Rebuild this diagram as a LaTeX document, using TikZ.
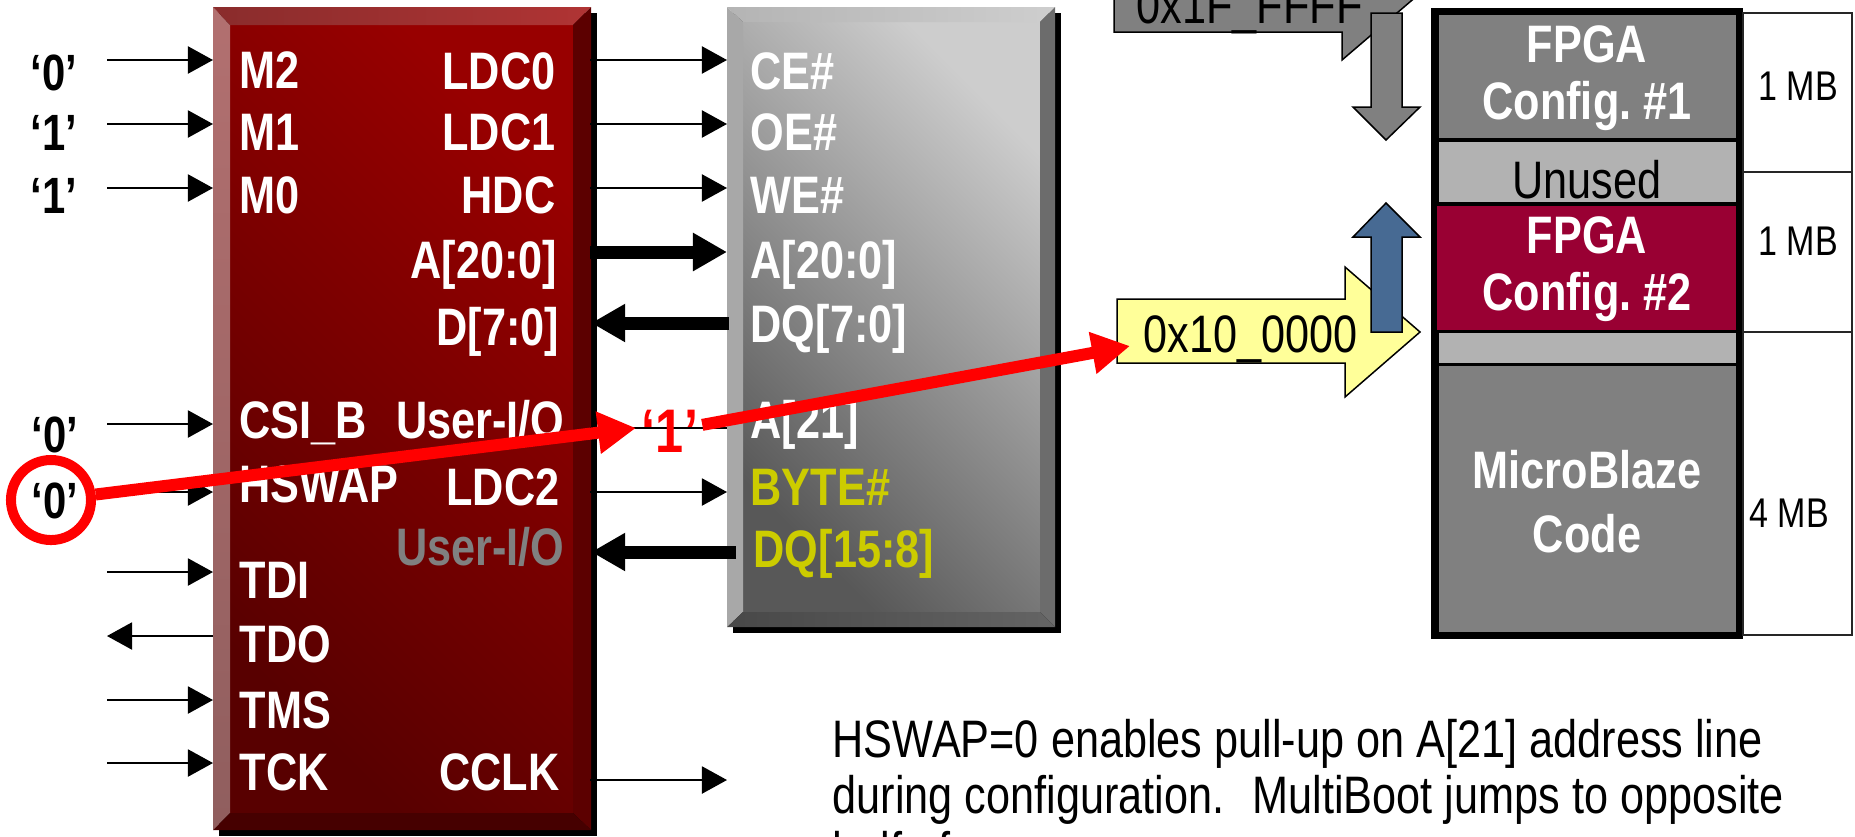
\documentclass[tikz,border=0pt]{standalone}
\usepackage{fontspec}
\usepackage{tikz}
\usepackage{xcolor}
\usetikzlibrary{arrows.meta,calc,positioning}
\newfontfamily\narrowfont[FakeStretch=0.82]{Liberation Sans}
\newcommand{\pinfont}{\narrowfont\bfseries\fontsize{15}{18}\selectfont}
\newcommand{\levelfont}{\narrowfont\bfseries\fontsize{14.5}{17}\selectfont}
\newcommand{\hotfont}{\narrowfont\bfseries\fontsize{17.5}{20}\selectfont}
\newcommand{\cellfont}{\narrowfont\bfseries\fontsize{15}{16.3}\selectfont}
\newcommand{\plainfont}{\narrowfont\fontsize{15}{15.9}\selectfont}
\newcommand{\sizefont}{\narrowfont\fontsize{11.8}{14}\selectfont}
\definecolor{redhi}{RGB}{152,0,0}
\definecolor{redlo}{RGB}{88,0,0}
\definecolor{redbevtop}{RGB}{178,112,112}
\definecolor{redbevbot}{RGB}{144,94,94}
\definecolor{redlidL}{RGB}{138,44,44}
\definecolor{redlidR}{RGB}{176,52,52}
\definecolor{redside}{RGB}{92,0,0}
\definecolor{redfoot}{RGB}{70,0,0}
\definecolor{graylo}{RGB}{88,88,88}
\definecolor{grayhi}{RGB}{205,205,205}
\definecolor{graybev}{RGB}{168,168,168}
\definecolor{graylidL}{RGB}{180,180,180}
\definecolor{graylidR}{RGB}{206,206,206}
\definecolor{grayside}{RGB}{108,108,108}
\definecolor{grayfootL}{RGB}{72,72,72}
\definecolor{grayfootR}{RGB}{100,100,100}
\definecolor{pinyellow}{RGB}{204,204,0}
\definecolor{addryellow}{RGB}{255,255,153}
\definecolor{cfgred}{RGB}{153,0,51}
\definecolor{jumpblue}{RGB}{71,106,147}
\definecolor{unusedgray}{RGB}{178,178,178}
\definecolor{codegray}{RGB}{128,128,128}

\begin{document}
\begin{tikzpicture}[x=0.01cm,y=-0.01cm,
  pin/.style={-{Triangle[length=0.25cm,width=0.27cm]},line width=0.02cm},
  bus/.style={-{Triangle[length=0.34cm,width=0.36cm]},line width=0.13cm},
  hot/.style={red,-{Triangle[length=0.38cm,width=0.40cm]},line width=0.12cm},
  pinL/.style={anchor=base west,inner sep=0pt,text=white,font=\pinfont},
  pinR/.style={anchor=base east,inner sep=0pt,text=white,font=\pinfont},
  level/.style={anchor=base,inner sep=0pt,font=\levelfont},
  blockarrow/.style={draw=black,line width=0.015cm},
  cell/.style={align=center,inner sep=0pt,text=white,font=\cellfont},
  size/.style={anchor=base,inner sep=0pt,font=\sizefont}]
  \useasboundingbox (0,0) rectangle (1855,836);
  \clip (0,0) rectangle (1855,836);

  % FPGA：红色斜面方块
  \fill[black] (219,13) rectangle (597,836);
  \shade[bottom color=redlo,top color=redhi,shading angle=-45] (230,25) rectangle (573,813);
  \shade[top color=redbevtop,bottom color=redbevbot]
    (213,7) -- (230,25) -- (230,813) -- (213,830) -- cycle;
  \shade[left color=redlidL,right color=redlidR]
    (213,7) -- (591,7) -- (573,25) -- (230,25) -- cycle;
  \fill[redside] (591,7) -- (591,830) -- (573,813) -- (573,25) -- cycle;
  \fill[redfoot] (213,830) -- (591,830) -- (573,813) -- (230,813) -- cycle;
  \node[minimum width=3.78cm,minimum height=8.23cm,inner sep=0pt,outer sep=0pt,anchor=north west] (fpga) at (213,7) {};

  % Flash：灰色斜面方块
  \fill[black] (733,13) rectangle (1061,633);
  \shade[bottom color=graylo,top color=grayhi,shading angle=-45] (743,22) rectangle (1040,612);
  \fill[graybev] (727,7) -- (743,22) -- (743,612) -- (727,627) -- cycle;
  \shade[left color=graylidL,right color=graylidR]
    (727,7) -- (1055,7) -- (1040,22) -- (743,22) -- cycle;
  \fill[grayside] (1055,7) -- (1055,627) -- (1040,612) -- (1040,22) -- cycle;
  \shade[left color=grayfootL,right color=grayfootR]
    (727,627) -- (1055,627) -- (1040,612) -- (743,612) -- cycle;
  \node[minimum width=3.28cm,minimum height=6.2cm,inner sep=0pt,outer sep=0pt,anchor=north west] (flash) at (727,7) {};

  % FPGA 左列引脚
  \node[pinL] (M2) at (239,88) {M2};
  \node[pinL] (M1) at (239,150) {M1};
  \node[pinL] (M0) at (239,213) {M0};
  \node[pinL] (CSI) at (239,438) {CSI\_B};
  \node[pinL] (HSWAP) at (239,502) {HSWAP};
  \node[pinL] (TDI) at (239,598) {TDI};
  \node[pinL] (TDO) at (239,662) {TDO};
  \node[pinL] (TMS) at (239,728) {TMS};
  \node[pinL] (TCK) at (239,790) {TCK};
  % FPGA 右列引脚
  \node[pinR] (LDC0) at (556,89) {LDC0};
  \node[pinR] (LDC1) at (556,150) {LDC1};
  \node[pinR] (HDC) at (556,213) {HDC};
  \node[pinR] (Aout) at (558,278) {A[20:0]};
  \node[pinR] (Din) at (560,345) {D[7:0]};
  \node[pinR] (UIO) at (565,438) {User-I/O};
  \node[pinR] (LDC2) at (560,505) {LDC2};
  \node[pinR,text=codegray] (UIOb) at (565,565) {User-I/O};
  \node[pinR] (CCLK) at (560,790) {CCLK};

  % Flash 引脚
  \node[pinL] (CE) at (750,89) {CE\#};
  \node[pinL] (OE) at (750,150) {OE\#};
  \node[pinL] (WE) at (750,213) {WE\#};
  \node[pinL] (Ain) at (750,278) {A[20:0]};
  \node[pinL] (DQlo) at (750,342) {DQ[7:0]};
  \node[pinL] (A21) at (750,438) {A[21]};
  \node[pinL,text=pinyellow] (BYTE) at (750,505) {BYTE\#};
  \node[pinL,text=pinyellow] (DQhi) at (753,567) {DQ[15:8]};

  % 模式电平
  \node[level] (lvM2) at (54,90) {‘0’};
  \node[level] (lvM1) at (54,150) {‘1’};
  \node[level] (lvM0) at (54,213) {‘1’};
  \node[level] (lvCSI) at (55,452) {‘0’};
  \node[level] (lvHSWAP) at (55,518) {‘0’};

  % 左侧输入/输出箭头
  \coordinate (inM2) at (107,60);
  \coordinate (inM1) at (107,124);
  \coordinate (inM0) at (107,188);
  \coordinate (inCSI) at (107,424);
  \coordinate (inHSWAP) at (107,492);
  \coordinate (inTDI) at (107,572);
  \coordinate (outTDO) at (107,636);
  \coordinate (inTMS) at (107,700);
  \coordinate (inTCK) at (107,763);
  \draw[pin] (inM2) -- (inM2 -| fpga.west);
  \draw[pin] (inM1) -- (inM1 -| fpga.west);
  \draw[pin] (inM0) -- (inM0 -| fpga.west);
  \draw[pin] (inCSI) -- (inCSI -| fpga.west);
  \draw[pin] (inHSWAP) -- (inHSWAP -| fpga.west);
  \draw[pin] (inTDI) -- (inTDI -| fpga.west);
  \draw[pin] (outTDO -| fpga.west) -- (outTDO);
  \draw[pin] (inTMS) -- (inTMS -| fpga.west);
  \draw[pin] (inTCK) -- (inTCK -| fpga.west);

  % FPGA 到 Flash 的连线
  \coordinate (oLDC0) at (590,60);
  \coordinate (oLDC1) at (590,124);
  \coordinate (oHDC) at (590,188);
  \coordinate (oA) at (590,252);
  \coordinate (iD) at (729,323);
  \coordinate (oUIO) at (590,428);
  \coordinate (oLDC2) at (590,492);
  \coordinate (iDQ) at (736,552);
  \coordinate (oCCLK) at (590,780);
  \draw[pin] (oLDC0) -- (oLDC0 -| flash.west);
  \draw[pin] (oLDC1) -- (oLDC1 -| flash.west);
  \draw[pin] (oHDC) -- (oHDC -| flash.west);
  \draw[bus] (oA) -- (oA -| flash.west);
  \draw[bus] (iD) -- (iD -| fpga.east);
  \draw[line width=0.02cm] (oUIO) -- (oUIO -| flash.west);
  \draw[pin] (oLDC2) -- (oLDC2 -| flash.west);
  \draw[bus] (iDQ) -- (iDQ -| fpga.east);
  \draw[pin] (oCCLK) -- (oCCLK -| flash.west);

  % 地址箭头
  \filldraw[blockarrow,fill=codegray] (1114,-42) -- (1342,-42) -- (1342,-70) -- (1418,-5)
    -- (1342,60) -- (1342,32) -- (1114,32) -- cycle;
  \node[anchor=base west,inner sep=0pt,font=\plainfont] (topaddr) at (1136,23) {0x1F\_FFFF};
  \filldraw[blockarrow,fill=codegray] (1371,13) -- (1402,13) -- (1402,107) -- (1420,107)
    -- (1386,140) -- (1353,107) -- (1371,107) -- cycle;
  \filldraw[blockarrow,fill=addryellow] (1117,299) -- (1345,299) -- (1345,267) -- (1420,332)
    -- (1345,397) -- (1345,363) -- (1117,363) -- cycle;
  \node[anchor=base west,inner sep=0pt,font=\plainfont] (bootaddr) at (1143,352) {0x10\_0000};
  \filldraw[blockarrow,fill=jumpblue] (1371,332) -- (1402,332) -- (1402,237) -- (1420,237)
    -- (1386,203) -- (1353,237) -- (1371,237) -- cycle;

  % 存储器映像
  \fill[black] (1431,8) rectangle (1743,639);
  \fill[codegray] (1439,15) rectangle (1736,138);
  \fill[unusedgray] (1439,142) rectangle (1736,202);
  \fill[cfgred] (1437,206) rectangle (1736,330);
  \fill[unusedgray] (1439,333) rectangle (1736,363);
  \fill[codegray] (1439,366) rectangle (1736,632);
  \node[cell] (cfg1) at (1587,78) {FPGA\\Config.\ \#1};
  \node[anchor=base,inner sep=0pt,font=\narrowfont\fontsize{15}{18}\selectfont] (unused) at (1587,198) {Unused};
  \node[cell] (cfg2) at (1587,269) {FPGA\\Config.\ \#2};
  \node[cell,font=\narrowfont\bfseries\fontsize{15}{18.2}\selectfont] (mbcode) at (1587,502) {MicroBlaze\\Code};

  % 容量标注
  \draw[line width=0.02cm,black!85] (1743,13) rectangle (1852,172);
  \draw[line width=0.02cm,black!85] (1743,172) rectangle (1852,332);
  \draw[line width=0.02cm,black!85] (1743,332) rectangle (1852,635);
  \node[size] (sz1) at (1798,100) {1 MB};
  \node[size] (sz2) at (1798,255) {1 MB};
  \node[size] (sz3) at (1789,527) {4 MB};

  % 说明文字
  \node[anchor=north west,inner sep=0pt,align=left,font=\plainfont] (note) at (832,719)
    {HSWAP=0 enables pull-up on A[21] address line\\during configuration.~ MultiBoot jumps to opposite\\half of memory.};

  % HSWAP 红圈与跳转箭头
  \node[draw=red,circle,line width=0.1cm,minimum size=0.8cm,inner sep=0pt] (hswapring) at (51,500) {};
  \node[font=\hotfont,text=red,anchor=base,inner sep=1pt] (pullup) at (670,452) {‘1’};
  \coordinate (a21tip) at (636,428);
  \coordinate (addrtip) at (1130,346);
  \draw[hot] (hswapring) -- (a21tip);
  \draw[hot] (pullup) -- (addrtip);
\end{tikzpicture}
\end{document}
